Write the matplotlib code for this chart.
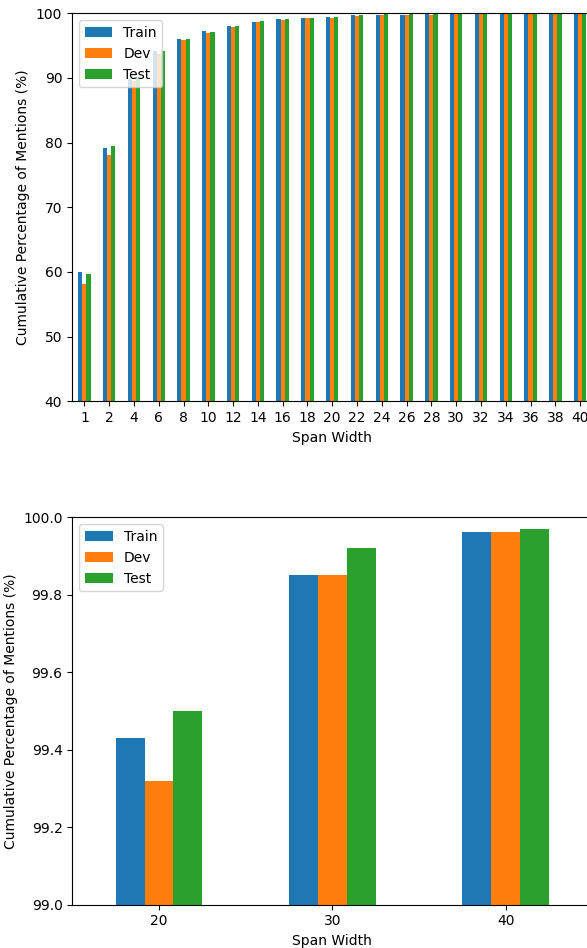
import matplotlib
matplotlib.use("Agg")
import matplotlib.pyplot as plt
import numpy as np
import pandas as pd

# Cumulative share of mentions covered by each maximum span width
span_widths = [1, 2, 4, 6, 8, 10, 12, 14, 16, 18, 20, 22, 24, 26, 28, 30, 32, 34, 36, 38, 40]
train = [60.0, 79.2, 89.9, 94.1, 96.1, 97.3, 98.1, 98.6, 99.05, 99.3, 99.43, 99.7, 99.75,
         99.8, 99.82, 99.85, 99.88, 99.9, 99.93, 99.95, 99.96]
dev = [58.1, 78.1, 89.6, 93.7, 95.8, 97.0, 97.9, 98.6, 98.9, 99.2, 99.32, 99.6, 99.7,
       99.78, 99.8, 99.85, 99.88, 99.9, 99.93, 99.95, 99.96]
test = [59.7, 79.5, 89.9, 94.2, 96.1, 97.1, 98.1, 98.8, 99.05, 99.35, 99.50, 99.7, 99.85,
        99.88, 99.9, 99.92, 99.93, 99.94, 99.95, 99.96, 99.97]

# Zoomed-in view for selected widths
zoom_widths = [20, 30, 40]
zoom_train = [99.43, 99.85, 99.963]
zoom_dev = [99.32, 99.85, 99.963]
zoom_test = [99.50, 99.922, 99.971]

W, H = 587, 948
fig = plt.figure(figsize=(W / 100, H / 100), dpi=100)

def px_axes(left, top, right, bottom):
    return fig.add_axes([left / W, 1 - bottom / H, (right - left) / W, (bottom - top) / H])

ax1 = px_axes(72, 13.3, 592.5, 401.3)
df1 = pd.DataFrame({"Train": train, "Dev": dev, "Test": test}, index=span_widths)
df1.plot.bar(ax=ax1, rot=0)
ax1.set_ylim(40, 100)
ax1.set_xlabel("Span Width")
ax1.set_ylabel("Cumulative Percentage of Mentions (%)")
ax1.legend(loc="upper left")

ax2 = px_axes(72.3, 517.3, 592.5, 904.7)
df2 = pd.DataFrame({"Train": zoom_train, "Dev": zoom_dev, "Test": zoom_test}, index=zoom_widths)
df2.plot.bar(ax=ax2, rot=0)
ax2.set_ylim(99.0, 100.0)
ax2.set_xlabel("Span Width")
ax2.set_ylabel("Cumulative Percentage of Mentions (%)")
ax2.legend(loc="upper left")

fig.savefig("out.png", dpi=100)
